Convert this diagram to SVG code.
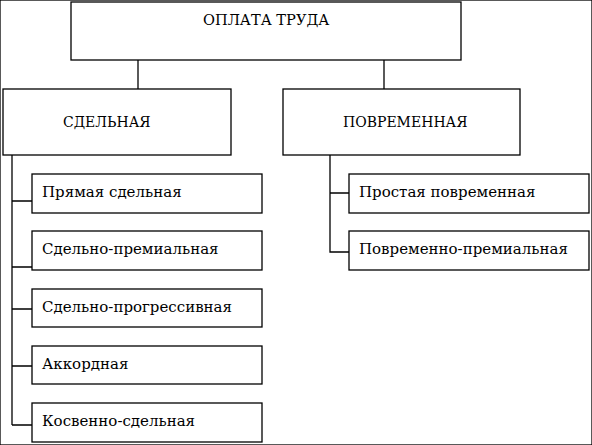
<svg xmlns="http://www.w3.org/2000/svg" width="592" height="445" viewBox="0 0 592 445">
<style>
rect{fill:#fff;stroke:#000;stroke-width:1.3}
line,path{stroke:#000;stroke-width:1.3;fill:none}
.h{font-size:14px}
</style>
<rect width="592" height="445" fill="#fff" stroke="none"/>
<g id="connectors">
<line x1="138" y1="60" x2="138" y2="89"/>
<line x1="384" y1="60" x2="384" y2="89"/>
<path d="M12 155V425"/>
<path d="M12 201H32M12 267H32M12 309H32M12 366H32M12 425H32"/>
<path d="M330 155V252H349M330 193H349"/>
</g>
<g font-family="'DejaVu Serif', serif" font-size="15" fill="#000">
<g id="root"><rect x="71" y="2" width="390" height="58"/><text x="203" y="25" font-size="14.6">ОПЛАТА ТРУДА</text></g>
<g id="sdelnaya"><rect x="3" y="89" width="228" height="66"/><text x="63" y="127" class="h">СДЕЛЬНАЯ</text></g>
<g id="povremennaya"><rect x="283" y="89" width="237" height="66"/><text x="343" y="127" class="h">ПОВРЕМЕННАЯ</text></g>
<g id="s1"><rect x="32" y="174" width="230" height="39"/><text x="42" y="197">Прямая сдельная</text></g>
<g id="s2"><rect x="32" y="231" width="230" height="39"/><text x="42" y="254">Сдельно-премиальная</text></g>
<g id="s3"><rect x="32" y="289" width="230" height="38"/><text x="42" y="312">Сдельно-прогрессивная</text></g>
<g id="s4"><rect x="32" y="346" width="230" height="38"/><text x="42" y="369">Аккордная</text></g>
<g id="s5"><rect x="32" y="403" width="230" height="39"/><text x="42" y="426">Косвенно-сдельная</text></g>
<g id="p1"><rect x="349" y="174" width="240" height="39"/><text x="359" y="197">Простая повременная</text></g>
<g id="p2"><rect x="349" y="231" width="240" height="39"/><text x="359" y="254">Повременно-премиальная</text></g>
</g>
</svg>
